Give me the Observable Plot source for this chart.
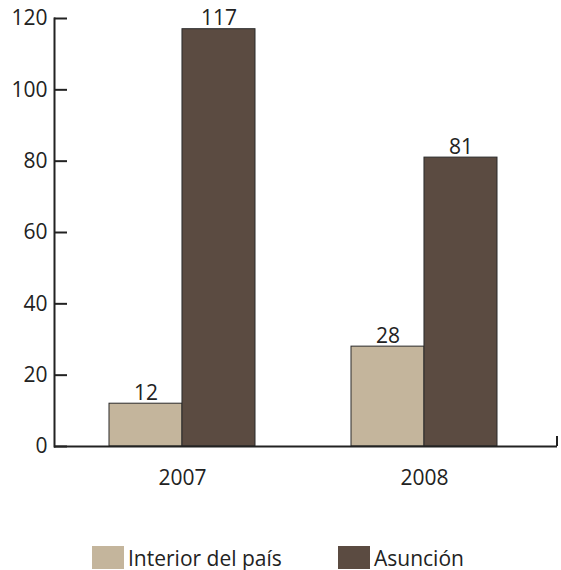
<!DOCTYPE html>
<html>
<head>
<meta charset="utf-8">
<script src="https://cdn.jsdelivr.net/npm/d3@7"></script>
<script src="https://cdn.jsdelivr.net/npm/@observablehq/plot@0.6"></script>
<style>
  body { margin: 0; background: #fff; font-family: "Open Sans", sans-serif; }
  #chart svg { display: block; }
  .legend { position: relative; height: 70px; font-size: 21px; color: #222; }
  .item { position: absolute; top: 46px; height: 23px; display: flex; align-items: center; }
  .sw { width: 32px; height: 23px; margin-right: 4px; flex: none; }
</style>
</head>
<body>
<div id="chart"></div>
<div class="legend" id="legend"></div>
<script>
const years = ["2007", "2008"];
const series = ["Interior del país", "Asunción"];
const interior = [12, 28];
const asuncion = [117, 81];
const yTicks = [0, 20, 40, 60, 80, 100, 120];
const colors = ["#c4b59c", "#5b4b41"];

const rowsInterior = years.map((y, i) => ({year: y, series: series[0], value: interior[i]}));
const rowsAsuncion = years.map((y, i) => ({year: y, series: series[1], value: asuncion[i]}));

const W = 561, mL = 54, mR = 4;
const xOpts = {type: "band", domain: years, paddingInner: 0.397, paddingOuter: 0.2376, align: 0.478};
// half of a year group = width of one series bar, taken from the band scale itself
const half = Plot.scale({x: {...xOpts, range: [mL, W - mR]}}).bandwidth / 2;

const barStyle = {stroke: "#2a2a2a", strokeWidth: 1};
const labelStyle = {lineAnchor: "bottom", dy: -4, fontSize: 21, fill: "#222"};

const plot = Plot.plot({
  width: W,
  height: 500,
  marginLeft: mL,
  marginRight: mR,
  marginTop: 18,
  marginBottom: 54,
  x: {...xOpts, label: null},
  y: {domain: [0, 120], label: null},
  color: {domain: series, range: colors},
  style: {fontFamily: "Open Sans", fontSize: "21px", color: "#222", background: "#fff"},
  marks: [
    Plot.barY(rowsInterior, {x: "year", y: "value", fill: "series", insetRight: half, ...barStyle}),
    Plot.barY(rowsAsuncion, {x: "year", y: "value", fill: "series", insetLeft: half, ...barStyle}),
    Plot.text(rowsInterior, {x: "year", y: "value", text: d => String(d.value), dx: -half / 2, ...labelStyle}),
    Plot.text(rowsAsuncion, {x: "year", y: "value", text: d => String(d.value), dx: half / 2, ...labelStyle}),
    Plot.ruleY([0], {stroke: "#222", strokeWidth: 2}),
    Plot.frame({anchor: "left", stroke: "#222", strokeWidth: 2}),
    Plot.axisY(yTicks, {tickSize: -13, tickPadding: 20, label: null, fontSize: 21, stroke: "#222", strokeWidth: 2, fill: "#222"}),
    Plot.axisX({tickSize: 0, tickPadding: 24, label: null, fontSize: 21, fill: "#222"})
  ]
});
document.getElementById("chart").appendChild(plot);

// right-end tick of the category axis
const y0 = plot.scale("y").apply(0);
d3.select(plot).append("line")
  .attr("x1", W - mR).attr("x2", W - mR)
  .attr("y1", y0).attr("y2", y0 - 10)
  .attr("stroke", "#222").attr("stroke-width", 2);

const legend = document.getElementById("legend");
const lx = [92, 338];
series.forEach((s, i) => {
  const it = document.createElement("div");
  it.className = "item";
  it.style.left = lx[i] + "px";
  it.innerHTML = `<div class="sw" style="background:${colors[i]}"></div><span>${s}</span>`;
  legend.appendChild(it);
});
</script>
</body>
</html>
